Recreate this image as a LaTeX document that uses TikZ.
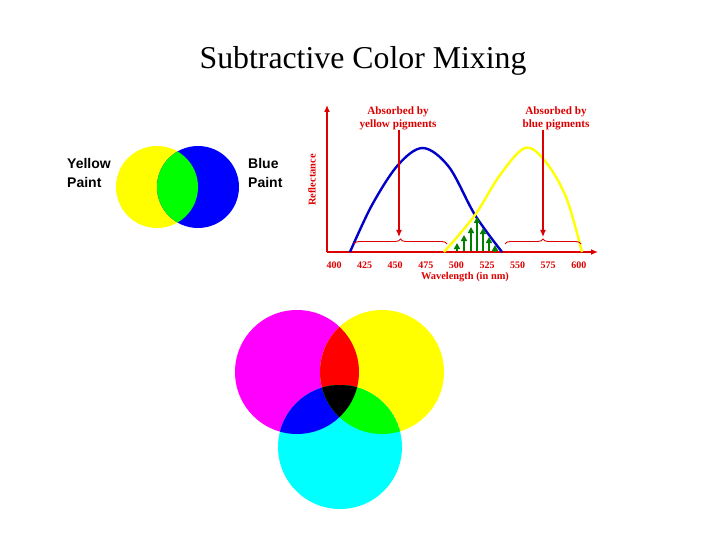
\documentclass[tikz,border=0pt]{standalone}
\usepackage{fontspec}
\setmainfont{Liberation Serif}
\newfontfamily\paintfont{Liberation Sans}
\usetikzlibrary{arrows.meta,decorations.pathreplacing}

\definecolor{axisred}{RGB}{220,0,0}
\definecolor{curveblue}{RGB}{0,0,200}
\definecolor{curveyellow}{RGB}{255,255,0}
\definecolor{arrowgreen}{RGB}{0,128,0}
\definecolor{pyellow}{RGB}{255,255,0}
\definecolor{pmagenta}{RGB}{255,0,255}
\definecolor{pcyan}{RGB}{0,255,255}
\definecolor{pred}{RGB}{255,0,0}
\definecolor{pgreen}{RGB}{0,255,0}
\definecolor{pblue}{RGB}{0,0,255}

\begin{document}
\begin{tikzpicture}[x=1pt,y=-1pt,
  paintlbl/.style={font=\paintfont\bfseries\fontsize{14}{19}\selectfont,align=left,anchor=north west,inner sep=0pt},
  graphlbl/.style={font=\bfseries\fontsize{11.2}{13}\selectfont,text=axisred,align=center,inner sep=0pt},
  ticklbl/.style={font=\bfseries\fontsize{10}{12}\selectfont,text=axisred,inner sep=0pt},
  axis/.style={draw=axisred,line width=1.6pt,-{Latex[length=7pt,width=6pt]}},
  bracelbl/.style={draw=axisred,line width=0.9pt,decorate,decoration={brace,amplitude=5pt}},
  absorb/.style={draw=axisred,line width=1.2pt,-{Latex[length=7pt,width=6pt]}},
  pass/.style={draw=arrowgreen,line width=2pt,-{Triangle[length=6pt,width=6pt]}}]
\useasboundingbox (0,0) rectangle (720,540);

% title
\node[font=\fontsize{31.8}{38}\selectfont,inner sep=0pt] (title) at (363,61) {Subtractive Color Mixing};

% yellow + blue paint
\fill[pyellow] (157,187) circle (41);
\fill[pblue] (198,187) circle (41);
\begin{scope}
\clip (157,187) circle (41);
\fill[pgreen] (198,187) circle (41);
\end{scope}
\node[paintlbl] (ylw) at (67,158) {Yellow\\Paint};
\node[paintlbl] (blu) at (248,158) {Blue\\Paint};

% reflectance graph
\coordinate (org) at (327,252);
\draw[axis] (org) -- (327,105);
\draw[axis] (org) -- (598,252);
\node[graphlbl,rotate=90,font=\bfseries\fontsize{10.4}{12}\selectfont] (refl) at (312,180) {Reflectance};
\foreach \w [count=\i from 0] in {400,425,...,600}
  \node[ticklbl] (t\w) at (334+30.6*\i,265) {\w};
\node[ticklbl,font=\bfseries\fontsize{10.4}{12}\selectfont] (wl) at (465,277) {Wavelength (in nm)};

\draw[curveblue,line width=2.4pt,line join=round] plot[smooth,tension=0.55] coordinates
  {(350,252) (372,205) (398,165) (423,148) (449,167) (475,215) (502,252)};
\draw[curveyellow,line width=2.4pt,line join=round] plot[smooth,tension=0.55] coordinates
  {(444,252) (475,215) (500,175) (525,148) (545,161) (566,197) (582,252)};

% light that passes
\foreach \px/\py in {457/243,464/235,471/227,477/217,483/228,489/237,495/245}
  \draw[pass] (\px,251) -- (\px,\py);

% absorbed ranges
\draw[bracelbl] (354,244) -- (447,244);
\draw[bracelbl] (505,244) -- (581,244);
\coordinate (ytip) at (399,237);
\coordinate (btip) at (543,237);
\node[graphlbl] (absy) at (398,118) {Absorbed by\\yellow pigments};
\node[graphlbl] (absb) at (556,118) {Absorbed by\\blue pigments};
\draw[absorb] (absy.south -| ytip) -- (ytip);
\draw[absorb] (absb.south -| btip) -- (btip);

% cyan, magenta, yellow
\fill[pmagenta] (297,372) circle (62);
\fill[pyellow] (382,372) circle (62);
\fill[pcyan] (340,447) circle (62);
\begin{scope}
\clip (297,372) circle (62);
\fill[pred] (382,372) circle (62);
\fill[pblue] (340,447) circle (62);
\clip (382,372) circle (62);
\fill[black] (340,447) circle (62);
\end{scope}
\begin{scope}
\clip (382,372) circle (62);
\clip (340,447) circle (62);
\fill[pgreen] (340,447) circle (62);
\fill[black] (297,372) circle (62);
\end{scope}
\end{tikzpicture}
\end{document}
